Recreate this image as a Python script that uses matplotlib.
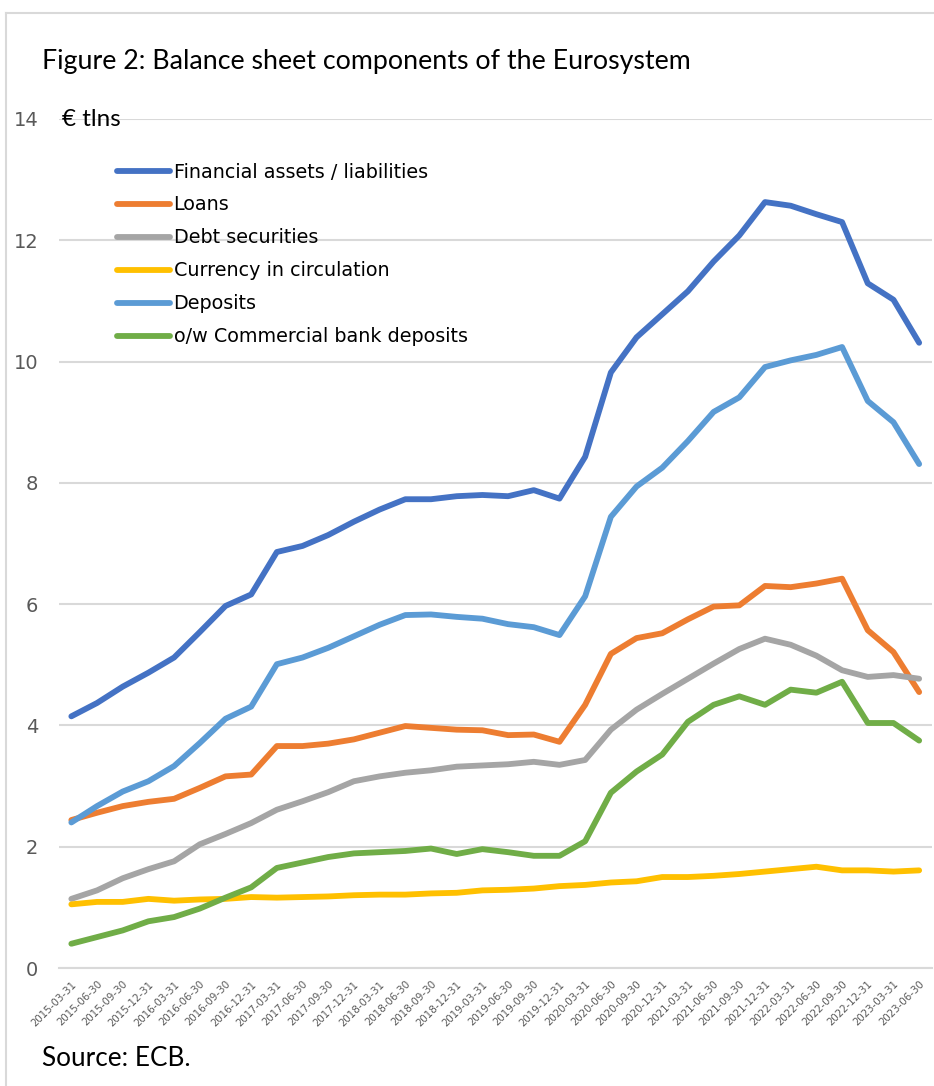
import matplotlib.pyplot as plt
import numpy as np

# kvartalid 2015Q1 .. 2023Q2
kuupaevad = ["2015-03-31", "2015-06-30", "2015-09-30", "2015-12-31",
             "2016-03-31", "2016-06-30", "2016-09-30", "2016-12-31",
             "2017-03-31", "2017-06-30", "2017-09-30", "2017-12-31",
             "2018-03-31", "2018-06-30", "2018-09-30", "2018-12-31",
             "2019-03-31", "2019-06-30", "2019-09-30", "2019-12-31",
             "2020-03-31", "2020-06-30", "2020-09-30", "2020-12-31",
             "2021-03-31", "2021-06-30", "2021-09-30", "2021-12-31",
             "2022-03-31", "2022-06-30", "2022-09-30", "2022-12-31",
             "2023-03-31", "2023-06-30"]

finantsvarad = [4.15, 4.37, 4.64, 4.87, 5.12, 5.54, 5.97, 6.16, 6.86, 6.96,
                7.14, 7.36, 7.56, 7.73, 7.73, 7.78, 7.80, 7.78, 7.88, 7.74,
                8.43, 9.82, 10.40, 10.78, 11.16, 11.65, 12.08, 12.63, 12.57, 12.43,
                12.30, 11.29, 11.02, 10.31]
laenud = [2.44, 2.56, 2.67, 2.74, 2.79, 2.97, 3.16, 3.19, 3.66, 3.66,
          3.70, 3.77, 3.88, 3.99, 3.96, 3.93, 3.92, 3.84, 3.85, 3.73,
          4.34, 5.18, 5.44, 5.52, 5.75, 5.96, 5.98, 6.30, 6.28, 6.34,
          6.42, 5.57, 5.21, 4.55]
volakirjad = [1.14, 1.28, 1.48, 1.63, 1.76, 2.04, 2.21, 2.39, 2.61, 2.75,
              2.90, 3.08, 3.16, 3.22, 3.26, 3.32, 3.34, 3.36, 3.40, 3.35,
              3.43, 3.93, 4.26, 4.52, 4.77, 5.02, 5.26, 5.43, 5.33, 5.15,
              4.91, 4.80, 4.83, 4.77]
sularaha = [1.05, 1.09, 1.09, 1.14, 1.11, 1.13, 1.14, 1.17, 1.16, 1.17,
            1.18, 1.20, 1.21, 1.21, 1.23, 1.24, 1.28, 1.29, 1.31, 1.35,
            1.37, 1.41, 1.43, 1.50, 1.50, 1.52, 1.55, 1.59, 1.63, 1.67,
            1.61, 1.61, 1.59, 1.61]
hoiused = [2.40, 2.67, 2.91, 3.08, 3.33, 3.71, 4.11, 4.31, 5.01, 5.12,
           5.28, 5.47, 5.66, 5.82, 5.83, 5.79, 5.76, 5.67, 5.62, 5.49,
           6.13, 7.44, 7.94, 8.25, 8.69, 9.17, 9.41, 9.91, 10.02, 10.11,
           10.24, 9.35, 9.00, 8.31]
pangahoiused = [0.40, 0.51, 0.62, 0.77, 0.84, 0.98, 1.16, 1.33, 1.65, 1.74,
                1.83, 1.89, 1.91, 1.93, 1.97, 1.88, 1.96, 1.91, 1.85, 1.85,
                2.09, 2.89, 3.24, 3.52, 4.06, 4.34, 4.48, 4.34, 4.59, 4.54,
                4.72, 4.04, 4.04, 3.75]

seeriad = [
    ("Financial assets / liabilities", finantsvarad, "#4472C4"),
    ("Loans", laenud, "#ED7D31"),
    ("Debt securities", volakirjad, "#A5A5A5"),
    ("Currency in circulation", sularaha, "#FFC000"),
    ("Deposits", hoiused, "#5B9BD5"),
    ("o/w Commercial bank deposits", pangahoiused, "#70AD47"),
]

W, H = 934, 1086
fig = plt.figure(figsize=(W / 100, H / 100), dpi=100)

def px(x, y):
    return x / W, 1 - y / H

# raam
fig.add_artist(plt.Line2D([6 / W, 1], [1 - 13 / H] * 2, color="#D9D9D9", lw=1.5))
fig.add_artist(plt.Line2D([6 / W] * 2, [0, 1 - 13 / H], color="#D9D9D9", lw=1.5))

vasak, parem = 58.5, 932
alum, ylem = 968, 119
ax = fig.add_axes([vasak / W, 1 - alum / H, (parem - vasak) / W, (alum - ylem) / H])

x = np.arange(len(kuupaevad))
for nimi, y, varv in seeriad:
    ax.plot(x, y, color=varv, lw=4.2, label=nimi, solid_capstyle="round", zorder=3)

ax.set_xlim(-0.5, len(kuupaevad) - 0.5)
ax.set_ylim(0, 14)
ax.set_yticks(np.arange(0, 15, 2))
ax.grid(axis="y", color="#D9D9D9", lw=1.5, zorder=0)
for s in ["top", "right", "left"]:
    ax.spines[s].set_visible(False)
ax.spines["bottom"].set_color("#D9D9D9")
ax.spines["bottom"].set_linewidth(1.5)
ax.tick_params(length=0)
ax.tick_params(axis="y", labelsize=14, labelcolor="#595959", pad=14.5)
ax.set_xticks(x)
ax.set_xticklabels(kuupaevad, rotation=45, ha="right", rotation_mode="anchor",
                   fontsize=7.4, color="#595959")
ax.tick_params(axis="x", pad=8)

ax.legend(loc="upper left", bbox_to_anchor=px(117, 162.5), bbox_transform=fig.transFigure,
          frameon=False, fontsize=13.8, handlelength=2.75, handletextpad=0.2,
          labelspacing=0.73, borderaxespad=0, borderpad=0)

fig.text(*px(42, 62), "Figure 2: Balance sheet components of the Eurosystem",
         fontsize=19.3, family="Lato", va="center", ha="left")
fig.text(*px(62, 119), "€ tlns", fontsize=17.5, family="Lato", va="center", ha="left")
fig.text(*px(42, 1058), "Source: ECB.", fontsize=18.8, family="Lato", va="center", ha="left")

fig.savefig("out.png", dpi=100)
